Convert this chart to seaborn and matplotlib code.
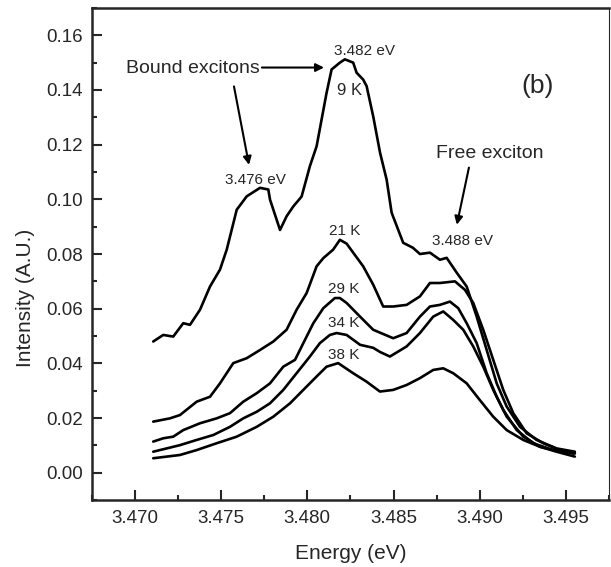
import matplotlib
matplotlib.use("Agg")
import matplotlib.pyplot as plt
import numpy as np
import pandas as pd
import seaborn as sns
from matplotlib.ticker import MultipleLocator

# --- data (energy in eV, intensity in A.U.) ---
energy_9k = [3.47107, 3.47165, 3.47223, 3.47281, 3.47320, 3.47378, 3.47436, 3.47494,
             3.47533, 3.47591, 3.47649, 3.47726, 3.47774, 3.47784, 3.47842, 3.47880,
             3.47920, 3.47967, 3.48015, 3.48054, 3.48083, 3.48112, 3.48141, 3.48189,
             3.48218, 3.48266, 3.48286, 3.48324, 3.48344, 3.48382, 3.48422, 3.48460,
             3.48489, 3.48556, 3.48612, 3.48653, 3.48711, 3.48769, 3.48808, 3.48866,
             3.48924, 3.48982, 3.49040, 3.49098, 3.49156, 3.49233, 3.49329, 3.49445,
             3.49551]
int_9k = [0.0480, 0.0504, 0.0498, 0.0547, 0.0541, 0.0596, 0.0681, 0.0743,
          0.0816, 0.0962, 0.1011, 0.1042, 0.1036, 0.0999, 0.0888, 0.0938,
          0.0975, 0.1010, 0.1121, 0.1194, 0.1292, 0.1390, 0.1475, 0.1500,
          0.1512, 0.1500, 0.1463, 0.1438, 0.1414, 0.1304, 0.1170, 0.1072,
          0.0951, 0.0841, 0.0823, 0.0800, 0.0805, 0.0779, 0.0786, 0.0732,
          0.0681, 0.0571, 0.0449, 0.0327, 0.0242, 0.0168, 0.0120, 0.0089,
          0.0077]

energy_21k = [3.47107, 3.47204, 3.47262, 3.47359, 3.47436, 3.47494, 3.47571, 3.47649,
              3.47726, 3.47803, 3.47880, 3.47938, 3.47996, 3.48054, 3.48093, 3.48150,
              3.48189, 3.48228, 3.48324, 3.48382, 3.48440, 3.48498, 3.48576, 3.48653,
              3.48711, 3.48769, 3.48856, 3.48914, 3.48962, 3.49020, 3.49078, 3.49136,
              3.49194, 3.49272, 3.49368, 3.49464, 3.49542]
int_21k = [0.0187, 0.0199, 0.0211, 0.0260, 0.0278, 0.0327, 0.0401, 0.0419,
           0.0449, 0.0480, 0.0523, 0.0596, 0.0657, 0.0755, 0.0785, 0.0816,
           0.0852, 0.0838, 0.0755, 0.0688, 0.0608, 0.0608, 0.0614, 0.0645,
           0.0694, 0.0694, 0.0700, 0.0669, 0.0621, 0.0523, 0.0413, 0.0303,
           0.0218, 0.0144, 0.0108, 0.0083, 0.0071]

energy_29k = [3.47107, 3.47165, 3.47223, 3.47281, 3.47378, 3.47475, 3.47552, 3.47629,
              3.47707, 3.47784, 3.47861, 3.47929, 3.47977, 3.48035, 3.48093, 3.48160,
              3.48189, 3.48228, 3.48306, 3.48382, 3.48498, 3.48576, 3.48653, 3.48711,
              3.48769, 3.48827, 3.48875, 3.48924, 3.48982, 3.49040, 3.49098, 3.49156,
              3.49252, 3.49349, 3.49445, 3.49551]
int_29k = [0.0114, 0.0126, 0.0132, 0.0156, 0.0181, 0.0199, 0.0218, 0.0260,
           0.0291, 0.0327, 0.0388, 0.0413, 0.0474, 0.0547, 0.0602, 0.0639,
           0.0639, 0.0621, 0.0571, 0.0523, 0.0492, 0.0511, 0.0571, 0.0608,
           0.0614, 0.0626, 0.0602, 0.0547, 0.0474, 0.0364, 0.0278, 0.0205,
           0.0132, 0.0095, 0.0077, 0.0059]

energy_34k = [3.47107, 3.47185, 3.47262, 3.47359, 3.47455, 3.47552, 3.47629, 3.47707,
              3.47784, 3.47861, 3.47938, 3.48015, 3.48073, 3.48131, 3.48170, 3.48228,
              3.48306, 3.48382, 3.48421, 3.48479, 3.48576, 3.48653, 3.48730, 3.48788,
              3.48846, 3.48904, 3.48962, 3.49020, 3.49078, 3.49136, 3.49214, 3.49310,
              3.49426, 3.49551]
int_34k = [0.0077, 0.0089, 0.0101, 0.0120, 0.0138, 0.0168, 0.0199, 0.0223,
           0.0254, 0.0303, 0.0364, 0.0425, 0.0474, 0.0504, 0.0511, 0.0504,
           0.0468, 0.0457, 0.0442, 0.0425, 0.0462, 0.0511, 0.0571, 0.0590,
           0.0559, 0.0523, 0.0462, 0.0388, 0.0303, 0.0230, 0.0156, 0.0108,
           0.0083, 0.0071]

energy_38k = [3.47107, 3.47262, 3.47359, 3.47475, 3.47591, 3.47707, 3.47803, 3.47900,
              3.47977, 3.48054, 3.48112, 3.48179, 3.48266, 3.48344, 3.48421, 3.48498,
              3.48576, 3.48653, 3.48730, 3.48788, 3.48846, 3.48924, 3.49000, 3.49078,
              3.49156, 3.49252, 3.49349, 3.49464, 3.49551]
int_38k = [0.0053, 0.0065, 0.0083, 0.0108, 0.0132, 0.0168, 0.0205, 0.0254,
           0.0303, 0.0352, 0.0388, 0.0401, 0.0364, 0.0333, 0.0297, 0.0303,
           0.0321, 0.0346, 0.0376, 0.0382, 0.0364, 0.0327, 0.0266, 0.0205,
           0.0156, 0.0120, 0.0095, 0.0077, 0.0071]

temps = ["9 K", "21 K", "29 K", "34 K", "38 K"]

# --- long-form table for seaborn ---
frames = []
for t, e, i in zip(temps,
                   [energy_9k, energy_21k, energy_29k, energy_34k, energy_38k],
                   [int_9k, int_21k, int_29k, int_34k, int_38k]):
    frames.append(pd.DataFrame({"energy": e, "intensity": i, "temp": t}))
df = pd.concat(frames, ignore_index=True)

sns.set_style("ticks")
plt.rcParams["font.family"] = ["Liberation Sans", "DejaVu Sans"]

fig = plt.figure(figsize=(6.11, 5.67), dpi=100)
ax = fig.add_axes([0.150, 0.118, 0.847, 0.868])

sns.lineplot(
    data=df,
    x="energy",
    y="intensity",
    hue="temp",
    units="temp",
    estimator=None,
    sort=False,
    palette=["black"] * len(temps),
    linewidth=1.9,
    legend=False,
    ax=ax,
)

ax.set_xlim(3.4675, 3.4975)
ax.set_ylim(-0.01, 0.17)
ax.xaxis.set_major_locator(MultipleLocator(0.005))
ax.xaxis.set_minor_locator(MultipleLocator(0.0025))
ax.yaxis.set_major_locator(MultipleLocator(0.02))
ax.yaxis.set_minor_locator(MultipleLocator(0.01))
ax.xaxis.set_major_formatter(plt.FormatStrFormatter("%.3f"))
ax.yaxis.set_major_formatter(plt.FormatStrFormatter("%.2f"))
ax.tick_params(which="major", direction="in", length=7, width=1.5, labelsize=13.5,
               top=False, right=False)
ax.tick_params(which="minor", direction="in", length=3.5, width=1.5,
               top=False, right=False)
ax.tick_params(axis="x", pad=7)
ax.tick_params(axis="y", pad=6.5)

for side in ["left", "bottom", "top"]:
    ax.spines[side].set_linewidth(1.8)
ax.spines["right"].set_linewidth(0.8)

ax.set_xlabel("Energy (eV)", fontsize=15)
ax.set_ylabel("Intensity (A.U.)", fontsize=15)
# label positions in axes fraction, as placed in the reference
ax.xaxis.set_label_coords(0.5, -0.089)
ax.yaxis.set_label_coords(-0.11, 0.41)

# --- annotations ---
ax.text(3.48334, 0.1542, "3.482 eV", fontsize=11, ha="center", va="center")
ax.text(3.47337, 0.1478, "Bound excitons", fontsize=14, ha="center", va="center")
ax.text(3.49337, 0.1413, "(b)", fontsize=19, ha="center", va="center")
ax.text(3.48247, 0.1399, "9 K", fontsize=12, ha="center", va="center")
ax.text(3.49059, 0.1167, "Free exciton", fontsize=14, ha="center", va="center")
ax.text(3.47697, 0.1072, "3.476 eV", fontsize=11, ha="center", va="center")
ax.text(3.48218, 0.0883, "21 K", fontsize=11, ha="center", va="center")
ax.text(3.48902, 0.0846, "3.488 eV", fontsize=11, ha="center", va="center")
ax.text(3.48213, 0.0672, "29 K", fontsize=11, ha="center", va="center")
ax.text(3.48213, 0.0549, "34 K", fontsize=11, ha="center", va="center")
ax.text(3.48213, 0.0431, "38 K", fontsize=11, ha="center", va="center")

arrow = dict(arrowstyle="-|>", color="black", lw=1.5, mutation_scale=12,
             shrinkA=0, shrinkB=0)
ax.annotate("", xy=(3.48097, 0.1482), xytext=(3.47737, 0.1482), arrowprops=arrow)
ax.annotate("", xy=(3.47662, 0.1126), xytext=(3.47575, 0.1413), arrowprops=arrow)
ax.annotate("", xy=(3.48867, 0.0907), xytext=(3.48937, 0.1116), arrowprops=arrow)

fig.savefig("out.png", dpi=100)
